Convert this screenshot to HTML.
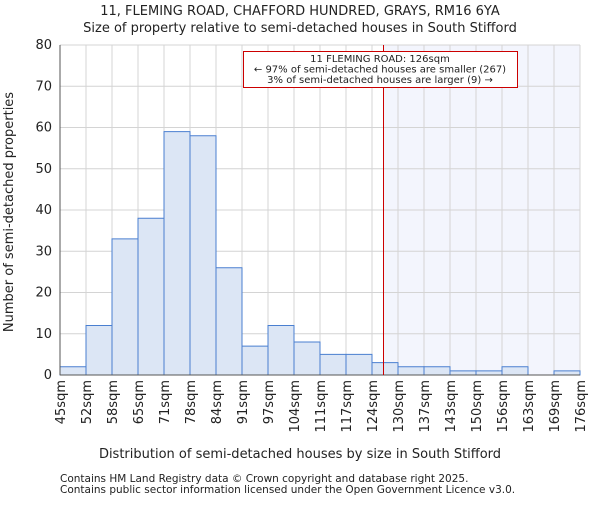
<!DOCTYPE html>
<html><head><meta charset="utf-8"><style>
body{margin:0;background:#fff}
svg text{font-family:"DejaVu Sans","Liberation Sans",sans-serif;fill:#222}
.red{stroke:#cc0000 !important}
</style></head><body>
<svg width="600" height="500" xmlns="http://www.w3.org/2000/svg" id="chart">
<text x="300" y="15" font-size="13" text-anchor="middle">11, FLEMING ROAD, CHAFFORD HUNDRED, GRAYS, RM16 6YA</text>
<text x="300" y="32" font-size="13" text-anchor="middle">Size of property relative to semi-detached houses in South Stifford</text>
<g id="plot"></g>
<text x="300" y="458" font-size="13" text-anchor="middle">Distribution of semi-detached houses by size in South Stifford</text>
<text transform="translate(13,212) rotate(-90)" font-size="13" text-anchor="middle">Number of semi-detached properties</text>
<text x="60" y="482" font-size="10.5">Contains HM Land Registry data © Crown copyright and database right 2025.</text>
<text x="60" y="493" font-size="10.5">Contains public sector information licensed under the Open Government Licence v3.0.</text>
</svg>
<script>
const categories=["45sqm","52sqm","58sqm","65sqm","71sqm","78sqm","84sqm","91sqm","97sqm","104sqm","111sqm","117sqm","124sqm","130sqm","137sqm","143sqm","150sqm","156sqm","163sqm","169sqm","176sqm"];
const values=[2,12,33,38,59,58,26,7,12,8,5,5,3,2,2,1,1,2,0,1];
const yTicks=[0,10,20,30,40,50,60,70,80];
const edgeStart=45, edgeEnd=176, propertySize=126;
const X0=60,X1=580,Y0=375,Y1=45;
const NS="http://www.w3.org/2000/svg";
const g=document.getElementById('plot');
const n=values.length, bw=(X1-X0)/n;
const xi=i=>X0+i*bw;
const xv=v=>X0+(v-edgeStart)/(edgeEnd-edgeStart)*(X1-X0);
const y=v=>Y0-(v/80)*(Y0-Y1);
function mk(t,a){const e=document.createElementNS(NS,t);for(const k in a)e.setAttribute(k,a[k]);g.appendChild(e);return e;}
const px=Math.round(xv(propertySize))+1.5;
let e=mk('rect',{x:px,y:Y1,width:X1-px,height:Y0-Y1,fill:'#f3f5fd'});


yTicks.forEach(t=>{let l=mk('line',{x1:X0,x2:X1,y1:y(t),y2:y(t),stroke:'#d4d4d4'});


let tx=mk('text',{x:X0-8,y:y(t)+4,'font-size':13,'text-anchor':'end'});tx.textContent=t;

});
categories.forEach((c,i)=>{let l=mk('line',{x1:xi(i),x2:xi(i),y1:Y1,y2:Y0,stroke:'#d4d4d4'});


let tx=mk('text',{'font-size':13,'text-anchor':'end',transform:`translate(${xi(i)+5},${Y0+5}) rotate(-90)`});tx.textContent=c;

});
values.forEach((v,i)=>{if(v<=0)return;let r=mk('rect',{x:xi(i),y:y(v),width:bw,height:Y0-y(v),fill:'#dce6f5',stroke:'#4a7fd0','stroke-width':1});

});
let ax=mk('line',{x1:X0,x2:X0,y1:Y1,y2:Y0,stroke:'#555'});


let ax2=mk('line',{x1:X0,x2:X1,y1:Y0,y2:Y0,stroke:'#555'});


let rl=mk('rect',{x:px-0.5,y:Y1,width:1,height:Y0-Y1,fill:'#cc0000'});


let box=mk('rect',{x:243,y:51,width:275,height:37,fill:'#cc0000'});


let inner=mk('rect',{x:244,y:52,width:273,height:35,fill:'#ffffff'});


["11 FLEMING ROAD: 126sqm","← 97% of semi-detached houses are smaller (267)","3% of semi-detached houses are larger (9) →"].forEach((s,i)=>{let t=mk('text',{x:380,y:62+i*10.5,'font-size':10,'text-anchor':'middle'});t.textContent=s;

});
</script>
</body></html>
